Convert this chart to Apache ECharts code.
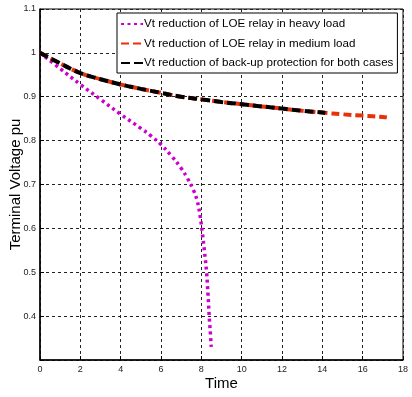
<!DOCTYPE html>
<html>
<head>
<meta charset="utf-8">
<script src="https://cdn.jsdelivr.net/npm/echarts@6/dist/echarts.min.js"></script>
<style>
  html, body { margin: 0; padding: 0; background: #fff; }
  #chart { width: 412px; height: 397px; }
</style>
</head>
<body>
<div id="chart"></div>
<script>
// Terminal voltage decay after loss of excitation (LOE)
const timeHeavy = [0, 1, 2, 3, 4, 5, 5.5, 6, 6.5, 7, 7.3, 7.6, 7.8, 7.95, 8.05, 8.15, 8.26, 8.33, 8.39, 8.45, 8.49];
const vHeavy    = [1.0, 0.964, 0.928, 0.894, 0.860, 0.828, 0.811, 0.791, 0.766, 0.737, 0.715, 0.688, 0.662, 0.625, 0.59, 0.55, 0.50, 0.45, 0.40, 0.36, 0.33];

const timeMedium = [0, 1, 2, 3, 4, 5, 6, 7, 8, 9, 10, 11, 12, 13, 14, 15, 16, 17, 17.2];
const vMedium    = [1.0, 0.976, 0.954, 0.940, 0.928, 0.918, 0.909, 0.900, 0.894, 0.888, 0.883, 0.878, 0.873, 0.868, 0.864, 0.860, 0.857, 0.854, 0.853];

const timeBackup = [0, 1, 2, 3, 4, 5, 6, 7, 8, 9, 10, 11, 12, 13, 14, 14.15];
const vBackup    = [1.0, 0.976, 0.954, 0.940, 0.928, 0.918, 0.909, 0.900, 0.894, 0.888, 0.883, 0.878, 0.873, 0.868, 0.864, 0.863];

const xTicks = [0, 2, 4, 6, 8, 10, 12, 14, 16, 18];
const yTicks = [0.4, 0.5, 0.6, 0.7, 0.8, 0.9, 1, 1.1];

const seriesNames = [
  'Vt reduction of LOE relay in heavy load',
  'Vt reduction of LOE relay in medium load',
  'Vt reduction of back-up protection for both cases'
];

const pairs = (xs, ys) => xs.map((x, i) => [x, ys[i]]);

const chart = echarts.init(document.getElementById('chart'), null, { renderer: 'canvas' });
const tickFont = { fontFamily: 'Liberation Sans, Arial, sans-serif', fontSize: 9, color: '#222' };

chart.setOption({
  animation: false,
  backgroundColor: '#fff',
  grid: {
    left: 40, top: 9, right: 9, bottom: 37,
    containLabel: false, outerBoundsMode: 'none',
    show: true, borderColor: '#000', borderWidth: 1
  },
  legend: {
    left: 117, top: 13,
    orient: 'vertical',
    backgroundColor: '#fff',
    borderColor: '#000',
    borderWidth: 1,
    padding: [5, 4, 4, 3],
    itemGap: 7.5,
    itemWidth: 22,
    itemHeight: 10,
    itemStyle: { opacity: 0 },
    textStyle: { fontFamily: 'Liberation Sans, Arial, sans-serif', fontSize: 11.6, color: '#000', padding: [0, 0, 0, -4] },
    data: seriesNames
  },
  xAxis: {
    type: 'value', min: 0, max: 18, interval: 2,
    name: 'Time', nameLocation: 'middle', nameGap: 16, nameMoveOverlap: false,
    nameTextStyle: { fontFamily: 'Liberation Sans, Arial, sans-serif', fontSize: 15, color: '#000' },
    axisLine: { show: true, lineStyle: { color: '#000', width: 1.5 } },
    axisTick: { show: true, inside: true, length: 4, lineStyle: { color: '#000' } },
    axisLabel: Object.assign({ margin: 5, formatter: v => (xTicks.includes(v) ? String(v) : '') }, tickFont),
    splitLine: { show: true, lineStyle: { color: '#222', type: [3, 3], width: 1 } }
  },
  yAxis: {
    type: 'value', min: 0.3, max: 1.1, interval: 0.1,
    name: 'Terminal Voltage pu', nameLocation: 'middle', nameGap: 17, nameMoveOverlap: false,
    nameTextStyle: { fontFamily: 'Liberation Sans, Arial, sans-serif', fontSize: 15, color: '#000' },
    axisLine: { show: true, lineStyle: { color: '#000', width: 1.5 } },
    axisTick: { show: true, inside: true, length: 4, lineStyle: { color: '#000' } },
    axisLabel: Object.assign({
      margin: 4,
      formatter: v => {
        const r = Math.round(v * 10) / 10;
        return yTicks.includes(r) ? String(r) : '';
      }
    }, tickFont),
    splitLine: { show: true, lineStyle: { color: '#222', type: [3, 3], width: 1 } }
  },
  series: [
    {
      name: seriesNames[0], type: 'line', smooth: 0.4, symbol: 'none', z: 3,
      data: pairs(timeHeavy, vHeavy),
      lineStyle: { color: '#cc00cc', width: 3.5, type: [3, 3.5] },
      itemStyle: { color: '#cc00cc' }
    },
    {
      name: seriesNames[1], type: 'line', smooth: 0.4, symbol: 'none', z: 2,
      data: pairs(timeMedium, vMedium),
      lineStyle: { color: '#e8300a', width: 4, type: [8, 4] },
      itemStyle: { color: '#e8300a' }
    },
    {
      name: seriesNames[2], type: 'line', smooth: 0.4, symbol: 'none', z: 4,
      data: pairs(timeBackup, vBackup),
      lineStyle: { color: '#000', width: 4, type: [9, 4] },
      itemStyle: { color: '#000' }
    }
  ]
});
</script>
</body>
</html>
